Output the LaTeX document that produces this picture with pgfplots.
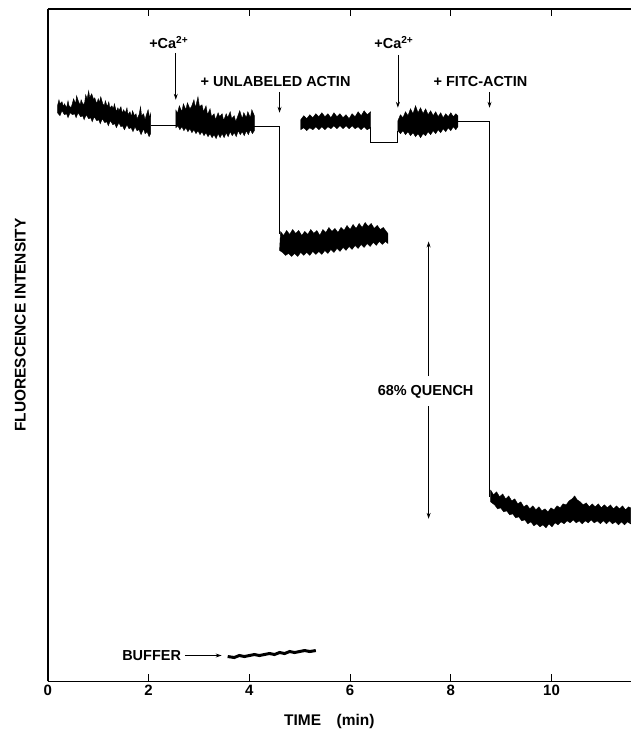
\documentclass[border=0pt]{standalone}
\usepackage{pgfplots}
\pgfplotsset{compat=1.18}
\usepackage{fontspec}
\setmainfont{Liberation Sans}
\usetikzlibrary{arrows.meta}
\begin{document}
\begin{tikzpicture}
\begin{axis}[
  scale only axis,
  width=584pt, height=674pt,
  xmin=0, xmax=11.57, ymin=0, ymax=674,
  axis x line*=box, axis y line*=left,
  axis line style={line width=1.3pt},
  xtick={0,2,4,6,8,10},
  ytick=\empty,
  xtick align=inside,
  major tick length=7pt,
  major tick style={line width=1.1pt, black},
  tick label style={font=\bfseries\fontsize{15}{15}\selectfont},
  /pgf/number format/assume math mode=true,
  xlabel={TIME\quad(min)},
  ylabel={FLUORESCENCE INTENSITY},
  every axis x label/.style={at={(rel axis cs:0.483,0)}, anchor=north, inner sep=0pt, yshift=-33pt,
    font=\bfseries\fontsize{15.5}{16}\selectfont},
  every axis y label/.style={at={(rel axis cs:0,0.53)}, rotate=90, anchor=south, inner sep=0pt, yshift=22pt,
    font=\bfseries\fontsize{15.5}{16}\selectfont},
  clip=false,
]
% trace 1: before Ca2+
\addplot[fill=black, draw=black, line width=0.4pt] coordinates {
 (0.19,577)(0.22,583)(0.24,579)(0.28,581)(0.31,576)(0.33,579)(0.37,575)(0.40,582)
 (0.42,577)(0.46,575)(0.49,580)(0.51,584)(0.55,579)(0.57,587)(0.61,581)(0.64,578)
 (0.66,583)(0.70,578)(0.73,580)(0.75,588)(0.78,584)(0.81,592)(0.83,585)(0.87,589)
 (0.91,583)(0.93,585)(0.97,579)(1.00,584)(1.02,580)(1.05,586)(1.09,579)(1.12,577)
 (1.14,582)(1.18,576)(1.21,581)(1.23,575)(1.27,577)(1.30,574)(1.32,579)(1.36,571)
 (1.39,575)(1.41,572)(1.45,576)(1.48,569)(1.50,573)(1.54,570)(1.57,575)(1.59,568)
 (1.63,571)(1.66,566)(1.68,572)(1.72,567)(1.75,569)(1.77,564)(1.81,568)(1.84,576)
 (1.86,567)(1.90,569)(1.93,563)(1.95,567)(1.99,573)(2.02,565)(2.04,569)
 (2.04,549)(2.01,546)(1.97,551)(1.93,549)(1.90,554)(1.85,548)(1.81,553)(1.77,552)
 (1.73,556)(1.69,551)(1.65,555)(1.61,554)(1.57,558)(1.52,553)(1.48,557)(1.45,556)
 (1.41,560)(1.36,555)(1.33,559)(1.29,558)(1.24,562)(1.20,557)(1.17,561)(1.13,560)
 (1.08,564)(1.04,559)(1.01,563)(0.97,562)(0.92,566)(0.88,561)(0.85,565)(0.81,564)
 (0.76,568)(0.72,563)(0.69,567)(0.65,566)(0.60,570)(0.56,565)(0.53,569)(0.49,568)
 (0.44,570)(0.40,565)(0.37,569)(0.33,568)(0.28,572)(0.24,567)(0.19,570)(0.19,577)};
\addplot[black, line width=1pt] coordinates {(2.04,557)(2.54,557)};
% trace 2: after Ca2+
\addplot[fill=black, draw=black, line width=0.4pt] coordinates {
 (2.54,573)(2.57,569)(2.61,577)(2.66,571)(2.69,579)(2.74,573)(2.77,580)(2.82,574)
 (2.85,576)(2.90,583)(2.93,575)(2.98,586)(3.01,576)(3.06,578)(3.09,571)(3.14,577)
 (3.17,568)(3.22,574)(3.25,566)(3.30,569)(3.33,563)(3.38,570)(3.41,566)(3.46,569)
 (3.49,562)(3.54,569)(3.57,565)(3.62,571)(3.65,564)(3.70,567)(3.73,561)(3.78,568)
 (3.81,572)(3.86,564)(3.89,570)(3.94,565)(3.97,571)(4.02,565)(4.05,573)(4.10,567)
 (4.10,552)(4.06,549)(4.02,553)(3.98,548)(3.94,552)(3.90,547)(3.86,551)(3.82,548)
 (3.78,552)(3.74,546)(3.70,550)(3.66,547)(3.62,551)(3.58,546)(3.54,550)(3.50,545)
 (3.46,549)(3.42,545)(3.38,549)(3.34,544)(3.30,548)(3.26,545)(3.22,549)(3.18,546)
 (3.14,550)(3.10,547)(3.06,551)(3.02,548)(2.98,552)(2.94,549)(2.90,553)(2.86,550)
 (2.82,554)(2.78,551)(2.74,555)(2.70,552)(2.66,556)(2.62,553)(2.58,557)(2.54,555)
 (2.54,573)};
\addplot[black, line width=1pt] coordinates {(4.10,556)(4.60,556)(4.60,448)};
% trace 3: after unlabeled actin
\addplot[fill=black, draw=black, line width=0.4pt] coordinates {
 (4.62,451)(4.68,447)(4.74,452)(4.80,448)(4.86,453)(4.92,449)(4.98,452)(5.04,447)
 (5.10,451)(5.16,448)(5.22,453)(5.28,449)(5.34,452)(5.40,447)(5.46,453)(5.52,450)
 (5.58,455)(5.64,451)(5.70,454)(5.76,450)(5.82,455)(5.88,452)(5.94,457)(6.00,453)
 (6.06,458)(6.12,454)(6.18,459)(6.24,455)(6.30,460)(6.36,456)(6.42,459)(6.48,454)
 (6.54,457)(6.60,453)(6.66,455)(6.72,451)(6.75,449)
 (6.75,439)(6.70,441)(6.64,438)(6.58,441)(6.52,437)(6.46,440)(6.40,436)(6.34,439)
 (6.28,435)(6.22,438)(6.16,434)(6.10,437)(6.04,433)(5.98,436)(5.92,432)(5.86,435)
 (5.80,431)(5.74,434)(5.68,430)(5.62,433)(5.56,429)(5.50,432)(5.44,428)(5.38,431)
 (5.32,428)(5.26,431)(5.20,427)(5.14,430)(5.08,427)(5.02,430)(4.96,426)(4.90,429)
 (4.84,426)(4.78,429)(4.72,427)(4.66,430)(4.60,432)(4.62,451)};
% trace 4: second run
\addplot[fill=black, draw=black, line width=0.4pt] coordinates {
 (5.02,563)(5.08,567)(5.14,564)(5.20,568)(5.26,565)(5.32,569)(5.38,566)(5.44,570)
 (5.50,566)(5.56,569)(5.62,565)(5.68,570)(5.74,566)(5.80,569)(5.86,565)(5.92,568)
 (5.98,564)(6.04,569)(6.10,566)(6.16,571)(6.22,567)(6.28,572)(6.34,568)(6.41,571)
 (6.41,555)(6.34,553)(6.28,556)(6.22,553)(6.16,556)(6.10,554)(6.04,557)(5.98,554)
 (5.92,557)(5.86,554)(5.80,557)(5.74,554)(5.68,557)(5.62,554)(5.56,556)(5.50,553)
 (5.44,556)(5.38,553)(5.32,556)(5.26,553)(5.20,555)(5.14,552)(5.08,555)(5.02,553)
 (5.02,563)};
\addplot[black, line width=1pt] coordinates {(6.41,556)(6.41,540)(6.95,540)(6.95,552)};
% trace 5: after second Ca2+
\addplot[fill=black, draw=black, line width=0.4pt] coordinates {
 (6.95,562)(7.00,568)(7.05,565)(7.10,571)(7.15,567)(7.20,574)(7.25,569)(7.30,577)
 (7.35,570)(7.40,575)(7.45,569)(7.50,574)(7.55,568)(7.60,572)(7.65,567)(7.70,571)
 (7.75,566)(7.80,570)(7.85,565)(7.90,569)(7.95,566)(8.00,570)(8.05,566)(8.10,569)
 (8.14,567)
 (8.14,556)(8.10,553)(8.05,556)(8.00,552)(7.95,555)(7.90,551)(7.85,554)(7.80,550)
 (7.75,553)(7.70,549)(7.65,552)(7.60,548)(7.55,551)(7.50,547)(7.45,549)(7.40,545)
 (7.35,549)(7.30,546)(7.25,550)(7.20,547)(7.15,551)(7.10,548)(7.05,552)(7.00,549)
 (6.95,552)(6.95,562)};
\addplot[black, line width=1pt] coordinates {(8.14,561)(8.77,561)(8.77,185)};
% trace 6: after FITC-actin
\addplot[fill=black, draw=black, line width=0.4pt] coordinates {
 (8.79,192)(8.85,187)(8.91,190)(8.97,185)(9.03,188)(9.09,183)(9.15,186)(9.21,181)
 (9.27,183)(9.33,178)(9.39,180)(9.45,175)(9.51,177)(9.57,173)(9.63,176)(9.69,172)
 (9.75,175)(9.81,171)(9.87,173)(9.93,170)(9.99,174)(10.05,172)(10.11,176)(10.17,174)
 (10.23,178)(10.29,177)(10.35,181)(10.41,183)(10.46,186)(10.51,182)(10.57,180)
 (10.63,177)(10.69,179)(10.75,175)(10.81,178)(10.87,175)(10.93,178)(10.99,174)
 (11.05,177)(11.11,174)(11.17,177)(11.23,173)(11.29,176)(11.35,173)(11.41,176)
 (11.47,172)(11.53,175)(11.57,174)
 (11.57,158)(11.51,160)(11.45,157)(11.39,160)(11.33,157)(11.27,160)(11.21,158)
 (11.15,161)(11.09,158)(11.03,161)(10.97,158)(10.91,161)(10.85,159)(10.79,162)
 (10.73,159)(10.67,161)(10.61,158)(10.55,161)(10.49,159)(10.43,162)(10.37,159)
 (10.31,161)(10.25,158)(10.19,160)(10.13,157)(10.07,159)(10.01,155)(9.95,158)
 (9.89,154)(9.83,157)(9.77,155)(9.71,158)(9.65,156)(9.59,160)(9.53,158)(9.47,162)
 (9.41,161)(9.35,165)(9.29,164)(9.23,168)(9.17,167)(9.11,171)(9.05,170)(8.99,174)
 (8.93,173)(8.87,177)(8.79,180)(8.79,192)};
% buffer
\addplot[black, line width=3pt] coordinates {
 (3.57,25)(3.7,24)(3.8,26)(3.9,25)(4.0,26)(4.1,27)(4.2,26)(4.3,27)(4.4,28)(4.5,27)
 (4.6,29)(4.7,28)(4.8,30)(4.9,29)(5.0,30)(5.1,31)(5.2,30)(5.32,31)};

% annotations
\begin{scope}[font=\bfseries\fontsize{14.5}{15}\selectfont, >={Stealth[length=6pt,width=4pt]}]
\node at (axis cs:2.40,640) {+Ca\textsuperscript{2+}};
\draw[->, line width=0.8pt] (axis cs:2.54,630) -- (axis cs:2.54,583);
\node at (axis cs:4.52,601) {+ UNLABELED ACTIN};
\draw[->, line width=0.8pt] (axis cs:4.60,591) -- (axis cs:4.60,570);
\node at (axis cs:6.87,640) {+Ca\textsuperscript{2+}};
\draw[->, line width=0.8pt] (axis cs:6.95,628) -- (axis cs:6.95,575);
\node at (axis cs:8.59,601) {+ FITC-ACTIN};
\draw[->, line width=0.8pt] (axis cs:8.77,591) -- (axis cs:8.77,575);
\draw[->, line width=0.8pt] (axis cs:7.56,306) -- (axis cs:7.56,441);
\draw[->, line width=0.8pt] (axis cs:7.56,276) -- (axis cs:7.56,163);
\node at (axis cs:7.50,290) {68\% QUENCH};
\node at (axis cs:2.06,26) {BUFFER};
\draw[->, line width=0.8pt] (axis cs:2.72,26) -- (axis cs:3.45,26);
\end{scope}
\path (rel axis cs:0,0) ++(-48pt,-46pt);
\path (rel axis cs:1,1) ++(0,9pt);
\end{axis}
\end{tikzpicture}
\end{document}
